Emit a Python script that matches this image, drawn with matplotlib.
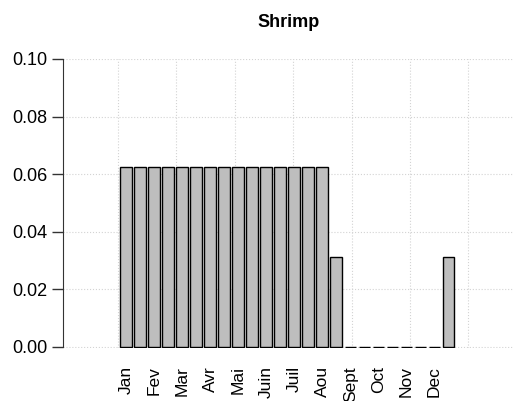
import numpy as np
import matplotlib
matplotlib.use("Agg")
import matplotlib.pyplot as plt

plt.rcParams['font.family'] = ['Liberation Sans', 'DejaVu Sans']

# proportions per half-month slot (24 bars), labelled every other bar
months = ["Jan", "Fev", "Mar", "Avr", "Mai", "Juin", "Juil", "Aou",
          "Sept", "Oct", "Nov", "Dec"]
values = [0.0625] * 15 + [0.03125] + [0.0] * 7 + [0.03125]
title = "Shrimp"

# R barplot geometry: width 1, space 0.2
n = len(values)
centers = 0.7 + 1.2 * np.arange(n)

fig = plt.figure(figsize=(5.14, 4.01), dpi=100)
ax = fig.add_axes([0.1226, 0.1322, 0.8774, 0.7208])

# dotted grid like R's grid()
for gx in np.arange(0, 31, 5):
    ax.axvline(gx, color="#d3d3d3", lw=0.8, ls=":", zorder=0)
for gy in np.arange(0, 0.101, 0.02):
    ax.axhline(gy, color="#d3d3d3", lw=0.8, ls=":", zorder=0)

ax.bar(centers, values, width=1.0, color="#bebebe", edgecolor="black",
       linewidth=1.0, zorder=2)

ax.set_xlim(-4.68, 33.9)
ax.set_ylim(-0.0004, 0.1)

ax.set_xticks(centers[::2])
ax.set_xticklabels(months, rotation=90, fontsize=12.5, va="top")
ax.tick_params(axis="x", length=0, pad=13)

ax.set_yticks(np.arange(0, 0.101, 0.02))
ax.set_yticklabels(["%.2f" % v for v in np.arange(0, 0.101, 0.02)], fontsize=13)
ax.tick_params(axis="y", length=8, width=1, color="#333333", pad=3)

for s in ["top", "right", "bottom"]:
    ax.spines[s].set_visible(False)
ax.spines["left"].set_color("#333333")
ax.spines["left"].set_bounds(0, 0.1)

fig.text(0.561, 0.945, title, ha="center", va="center", fontsize=13,
         fontweight="bold")

fig.savefig("out.png", dpi=100)
